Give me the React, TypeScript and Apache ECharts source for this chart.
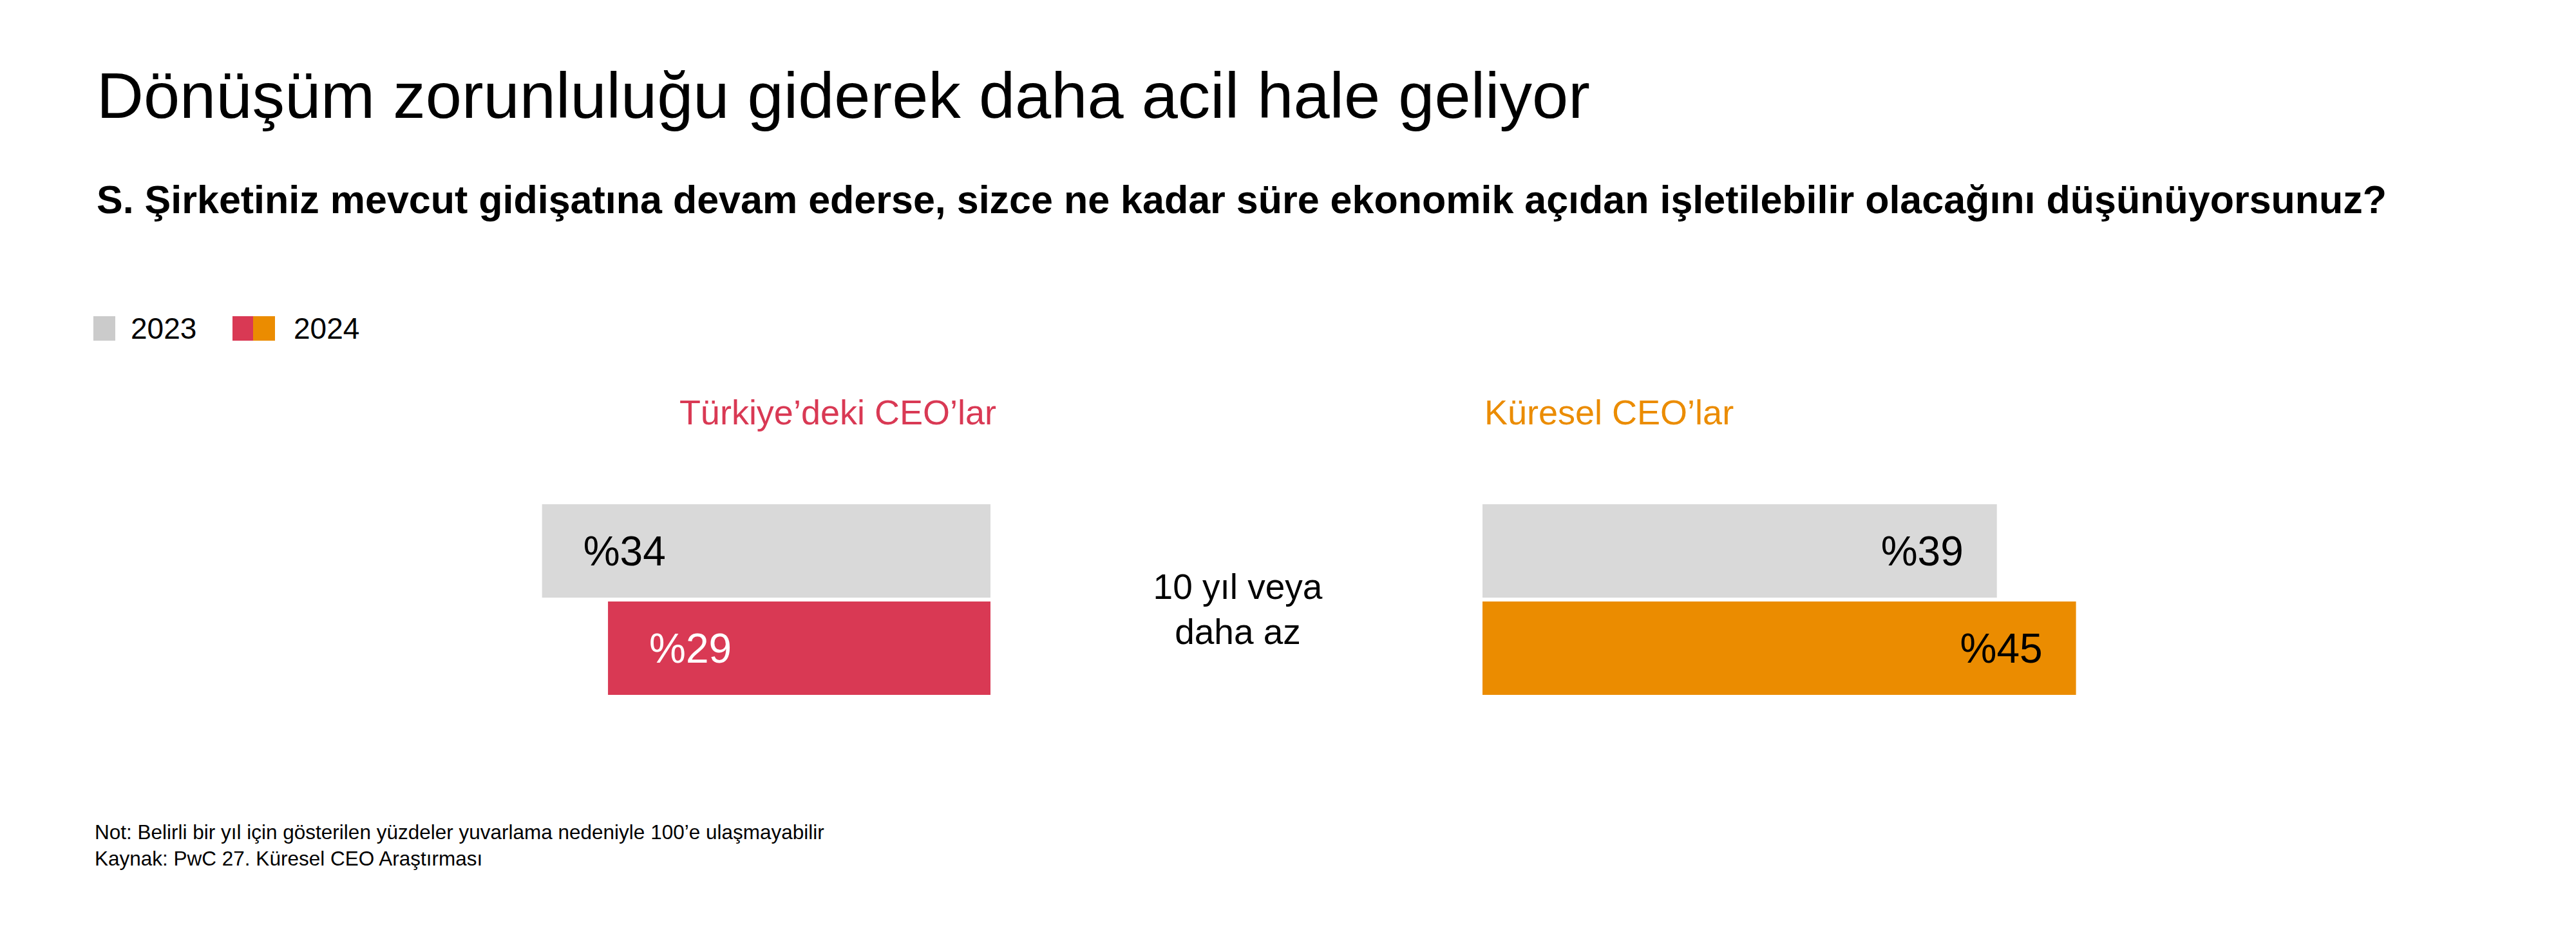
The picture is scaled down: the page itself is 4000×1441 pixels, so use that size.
import React, { useEffect, useRef } from "react";
import * as echarts from "echarts";

// ---- data ----
const categories = ["2023", "2024"];
const legendLabels = ["2023", "2024"];
const groupTitles = ["Türkiye’deki CEO’lar", "Küresel CEO’lar"];
const turkeyValues = [34, 29];
const globalValues = [39, 45];
const rowLabelLines = ["10 yıl veya", "daha az"];
const axisMax = 50;

const titleText = "Dönüşüm zorunluluğu giderek daha acil hale geliyor";
const subtitleText =
  "S. Şirketiniz mevcut gidişatına devam ederse, sizce ne kadar süre ekonomik açıdan işletilebilir olacağını düşünüyorsunuz?";
const noteLines = [
  "Not: Belirli bir yıl için gösterilen yüzdeler yuvarlama nedeniyle 100’e ulaşmayabilir",
  "Kaynak: PwC 27. Küresel CEO Araştırması",
];

const FONT = "'Liberation Sans', Arial, Helvetica, sans-serif";
const GREY = "#D9D9D9";
const GREY_LEGEND = "#CBCBCB";
const ROSE = "#D93954";
const ORANGE = "#EB8C00";

export default function App() {
  const ref = useRef<HTMLDivElement>(null);

  useEffect(() => {
    if (!ref.current) return;
    const chart = echarts.init(ref.current, null, { renderer: "svg" });

    const pct = (p: any) => "%" + p.value;

    const option: any = {
      animation: false,
      backgroundColor: "#ffffff",
      grid: [
        { left: 514, width: 1024, top: 780, height: 302 },
        { left: 2302, width: 1024, top: 780, height: 302 },
      ],
      xAxis: [
        { gridIndex: 0, type: "value", min: 0, max: axisMax, inverse: true, show: false },
        { gridIndex: 1, type: "value", min: 0, max: axisMax, show: false },
      ],
      yAxis: [
        { gridIndex: 0, type: "category", data: categories, inverse: true, show: false },
        { gridIndex: 1, type: "category", data: categories, inverse: true, show: false },
      ],
      series: [
        {
          type: "bar",
          xAxisIndex: 0,
          yAxisIndex: 0,
          barWidth: 145,
          data: turkeyValues.map((v, i) => ({
            value: v,
            itemStyle: { color: i === 0 ? GREY : ROSE },
            label: { color: i === 0 ? "#000000" : "#ffffff" },
          })),
          label: {
            show: true,
            position: "insideLeft",
            distance: 64,
            formatter: pct,
            fontFamily: FONT,
            fontSize: 64,
          },
          silent: true,
        },
        {
          type: "bar",
          xAxisIndex: 1,
          yAxisIndex: 1,
          barWidth: 145,
          data: globalValues.map((v, i) => ({
            value: v,
            itemStyle: { color: i === 0 ? GREY : ORANGE },
          })),
          label: {
            show: true,
            position: "insideRight",
            distance: 52,
            formatter: pct,
            fontFamily: FONT,
            fontSize: 64,
            color: "#000000",
          },
          silent: true,
        },
      ],
      graphic: [
        {
          type: "text",
          x: 150,
          y: 148,
          style: { text: titleText, fontFamily: FONT, fontSize: 101, fill: "#000", verticalAlign: "middle" },
        },
        {
          type: "text",
          x: 150,
          y: 310,
          style: {
            text: subtitleText,
            fontFamily: FONT,
            fontSize: 61,
            fontWeight: "bold",
            fill: "#000",
            verticalAlign: "middle",
          },
        },
        // legend
        { type: "rect", shape: { x: 145, y: 491, width: 34, height: 38 }, style: { fill: GREY_LEGEND } },
        {
          type: "text",
          x: 203,
          y: 510,
          style: { text: legendLabels[0], fontFamily: FONT, fontSize: 46, fill: "#000", verticalAlign: "middle" },
        },
        { type: "rect", shape: { x: 361, y: 491, width: 33, height: 38 }, style: { fill: ROSE } },
        { type: "rect", shape: { x: 393, y: 491, width: 34, height: 38 }, style: { fill: ORANGE } },
        {
          type: "text",
          x: 456,
          y: 510,
          style: { text: legendLabels[1], fontFamily: FONT, fontSize: 46, fill: "#000", verticalAlign: "middle" },
        },
        // group titles
        {
          type: "text",
          x: 1547,
          y: 640,
          style: {
            text: groupTitles[0],
            fontFamily: FONT,
            fontSize: 54,
            fill: ROSE,
            align: "right",
            verticalAlign: "middle",
          },
        },
        {
          type: "text",
          x: 2305,
          y: 640,
          style: {
            text: groupTitles[1],
            fontFamily: FONT,
            fontSize: 54,
            fill: ORANGE,
            align: "left",
            verticalAlign: "middle",
          },
        },
        // row label
        ...rowLabelLines.map((t, i) => ({
          type: "text",
          x: 1922,
          y: 911 + i * 70,
          style: {
            text: t,
            fontFamily: FONT,
            fontSize: 55,
            fill: "#000",
            align: "center",
            verticalAlign: "middle",
          },
        })),
        // notes
        ...noteLines.map((t, i) => ({
          type: "text",
          x: 147,
          y: 1292 + i * 41,
          style: {
            text: t,
            fontFamily: FONT,
            fontSize: 31.5,
            fill: "#000",
            verticalAlign: "middle",
          },
        })),
      ],
    };

    chart.setOption(option);
    return () => chart.dispose();
  }, []);

  return (
    <div
      ref={ref}
      style={{ position: "fixed", left: 0, top: 0, width: 4000, height: 1441, background: "#fff" }}
    />
  );
}
